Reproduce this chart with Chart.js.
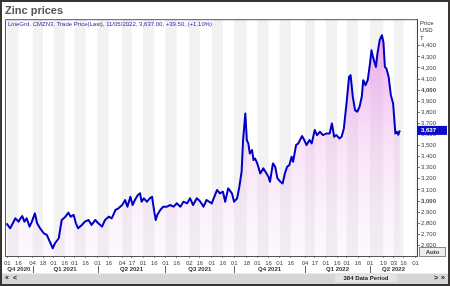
<!DOCTYPE html>
<html><head><meta charset="utf-8">
<script src="https://cdn.jsdelivr.net/npm/chart.js@4.4.0/dist/chart.umd.min.js"></script>
<style>html,body{margin:0;padding:0;background:#fff;overflow:hidden}canvas{display:block}</style>
</head><body><canvas id="c" width="450" height="286"></canvas>
<script>
const TITLE = 'Zinc prices';
const SUBTITLE = 'LineGrd, CMZN3, Trade Price(Last), 11/05/2022, 3,637.00, +39.50, (+1.10%)';
const AXIS_UNIT = ['Price', 'USD', 'T'];
const DATA_PERIOD = '384 Data Period';
const START_DATE = '2020-12-01';
const X_RANGE = ['2020-11-28', '2022-06-03'];
const PRICE_RANGE = [2504, 4640];

const dates = [
'2020-11-30','2020-12-05','2020-12-12','2020-12-16','2020-12-21','2020-12-24','2020-12-27','2020-12-31',
'2021-01-03','2021-01-07','2021-01-10','2021-01-14','2021-01-19','2021-01-23','2021-01-28','2021-01-31',
'2021-02-03','2021-02-08','2021-02-12','2021-02-17','2021-02-21','2021-02-24','2021-02-28',
'2021-03-03','2021-03-06','2021-03-11','2021-03-15','2021-03-20','2021-03-24','2021-03-29',
'2021-04-02','2021-04-07','2021-04-11','2021-04-16','2021-04-20','2021-04-25','2021-04-29',
'2021-05-04','2021-05-08','2021-05-11','2021-05-15','2021-05-18','2021-05-21','2021-05-25','2021-05-28','2021-05-30',
'2021-06-02','2021-06-06','2021-06-10','2021-06-13','2021-06-16','2021-06-18','2021-06-20','2021-06-24','2021-06-28',
'2021-07-03','2021-07-07','2021-07-12','2021-07-16','2021-07-21','2021-07-25','2021-07-30',
'2021-08-03','2021-08-07','2021-08-12','2021-08-16','2021-08-21','2021-08-25',
'2021-09-01','2021-09-08','2021-09-12','2021-09-16','2021-09-19','2021-09-23','2021-09-28',
'2021-10-01','2021-10-05','2021-10-08','2021-10-11','2021-10-13','2021-10-16','2021-10-18','2021-10-20','2021-10-22','2021-10-25','2021-10-27','2021-10-29',
'2021-11-01','2021-11-05','2021-11-09','2021-11-12','2021-11-16','2021-11-18','2021-11-22','2021-11-25','2021-11-28',
'2021-12-02','2021-12-05','2021-12-08','2021-12-11','2021-12-14','2021-12-17','2021-12-19','2021-12-23','2021-12-26','2021-12-31',
'2022-01-03','2022-01-06','2022-01-10','2022-01-13','2022-01-17','2022-01-20','2022-01-24','2022-01-28',
'2022-02-02','2022-02-06','2022-02-09','2022-02-12','2022-02-15','2022-02-19','2022-02-22','2022-02-25',
'2022-03-01','2022-03-04','2022-03-06','2022-03-09','2022-03-12','2022-03-15','2022-03-18','2022-03-21','2022-03-23','2022-03-26','2022-03-29',
'2022-04-01','2022-04-03','2022-04-05','2022-04-09','2022-04-11','2022-04-14','2022-04-17','2022-04-19','2022-04-21','2022-04-23','2022-04-26','2022-04-29',
'2022-05-02','2022-05-05','2022-05-07','2022-05-09','2022-05-11'
];
const prices = [
2799,2754,2844,2814,2865,2814,2844,2769,
2814,2889,2799,2754,2709,2694,2619,2574,
2619,2664,2829,2859,2895,2859,2874,
2799,2754,2784,2814,2829,2784,2829,
2799,2769,2829,2859,2844,2919,2934,
2964,3009,2949,3039,2964,3009,3054,3069,2994,
3024,2994,3024,3039,2904,2829,2874,2919,2949,
2949,2964,2949,2979,2949,2994,2979,
3024,2964,3024,3000,2949,3009,
2979,3099,3069,3084,2994,3114,3069,
2994,3024,3129,3264,3550,3790,3550,3520,3429,3459,3369,3384,
3339,3249,3294,3264,3219,3174,3339,3309,3204,
3174,3159,3249,3309,3324,3399,3354,3505,3520,3586,
3550,3505,3550,3520,3640,3595,3625,3595,
3610,3610,3700,3580,3595,3565,3580,3655,
3910,4120,4135,3940,3820,3805,3850,3940,4090,4045,4090,
4240,4360,4300,4210,4330,4450,4495,4435,4210,4195,4120,3955,
3880,3610,3625,3598,3637
];

const tickDates = ['2020-12-01','2020-12-16','2021-01-04','2021-01-18','2021-02-01','2021-02-16','2021-03-01','2021-03-16',
'2021-04-01','2021-04-16','2021-05-04','2021-05-17','2021-06-01','2021-06-16','2021-07-01','2021-07-16','2021-08-02','2021-08-16',
'2021-09-01','2021-09-16','2021-10-01','2021-10-18','2021-11-01','2021-11-16','2021-12-01','2021-12-16','2022-01-04','2022-01-17',
'2022-02-01','2022-02-16','2022-03-01','2022-03-16','2022-04-01','2022-04-19','2022-05-03','2022-05-16','2022-06-01'];
const tickLabels = ['01','16','04','18','01','16','01','16','01','16','04','17','01','16','01','16','02','16',
'01','16','01','18','01','16','01','16','04','17','01','16','01','16','01','19','03','16','01'];
const quarterStarts = ['2020-10-01','2021-01-04','2021-04-01','2021-07-01','2021-10-01','2022-01-04','2022-04-01','2022-07-01'];
const quarterLabels = ['Q4 2020','Q1 2021','Q2 2021','Q3 2021','Q4 2021','Q1 2022','Q2 2022'];
const priceTicks = [2600,2700,2800,2900,3000,3100,3200,3300,3400,3500,3600,3700,3800,3900,4000,4100,4200,4300,4400];
const boldPriceTicks = [3000, 4000];

const FONT = 'Liberation Sans, Arial, sans-serif';
const t0 = Date.UTC(2020, 11, 1);
function dayNum(s) { const [y, m, d] = s.split('-').map(Number); return (Date.UTC(y, m - 1, d) - t0) / 86400000; }
const xMin = dayNum(X_RANGE[0]), xMax = dayNum(X_RANGE[1]);

const decor = {
  id: 'decor',
  beforeDatasetsDraw(chart) {
    const { ctx, chartArea: a, scales } = chart;
    const xs = scales.x;
    ctx.save();
    ctx.beginPath(); ctx.rect(a.left, a.top, a.right - a.left, a.bottom - a.top); ctx.clip();
    ctx.fillStyle = '#f2f2f2';
    for (let i = 0; i < tickDates.length; i += 2) {
      const x1 = xs.getPixelForValue(dayNum(tickDates[i]));
      const x2 = i + 1 < tickDates.length ? xs.getPixelForValue(dayNum(tickDates[i + 1])) : a.right;
      ctx.fillRect(x1, a.top, x2 - x1, a.bottom - a.top);
    }
    ctx.fillStyle = '#2a2ab0';
    ctx.font = '6px ' + FONT;
    ctx.textBaseline = 'middle';
    ctx.fillText(SUBTITLE, a.left + 3, a.top + 5.5);
    ctx.restore();
  },
  afterDraw(chart) {
    const { ctx, chartArea: a, scales } = chart;
    const xs = scales.x, ys = scales.y;
    const W = chart.width, H = chart.height;
    ctx.save();
    ctx.strokeStyle = '#555'; ctx.lineWidth = 1;
    ctx.beginPath();
    ctx.moveTo(a.left + 0.5, a.bottom); ctx.lineTo(a.left + 0.5, a.top + 0.5); ctx.lineTo(a.right, a.top + 0.5);
    ctx.stroke();
    ctx.strokeStyle = '#666';
    quarterStarts.forEach(q => {
      const v = dayNum(q);
      if (v <= xMin || v >= xMax) return;
      const x = Math.round(xs.getPixelForValue(v)) + 0.5;
      ctx.beginPath(); ctx.moveTo(x, 266); ctx.lineTo(x, 273); ctx.stroke();
    });
    ctx.fillStyle = '#333'; ctx.font = '6px ' + FONT; ctx.textBaseline = 'middle'; ctx.textAlign = 'left';
    AXIS_UNIT.forEach((t, i) => ctx.fillText(t, a.right + 3, 23 + i * 7.5));
    const last = prices[prices.length - 1];
    const py = ys.getPixelForValue(last);
    ctx.fillStyle = '#0c0cc8';
    ctx.fillRect(a.right, py - 4.5, 30, 9);
    ctx.fillStyle = '#ffffff'; ctx.font = 'bold 6px ' + FONT;
    ctx.fillText(last.toLocaleString('en-US'), a.right + 4, py);
    ctx.fillStyle = '#eeeeee'; ctx.fillRect(419.5, 247.5, 26, 9);
    ctx.strokeStyle = '#888'; ctx.strokeRect(419.5, 247.5, 26, 9);
    ctx.fillStyle = '#333'; ctx.font = 'bold 6px ' + FONT; ctx.textAlign = 'center';
    ctx.fillText('Auto', 432.5, 252);
    ctx.fillStyle = '#d6d6d6'; ctx.fillRect(0, 273.5, W, H - 273.5);
    ctx.fillStyle = '#e4e4e4'; ctx.fillRect(335, 274.5, 62, 8);
    ctx.fillStyle = '#222'; ctx.font = 'bold 6px ' + FONT;
    ctx.fillText(DATA_PERIOD, 366, 278.5);
    ctx.font = 'bold 7px ' + FONT;
    ctx.fillText('\u00ab', 7, 278.5); ctx.fillText('<', 15, 278.5);
    ctx.fillText('>', 436, 278.5); ctx.fillText('\u00bb', 443, 278.5);
    ctx.strokeStyle = '#3a3530'; ctx.lineWidth = 2;
    ctx.strokeRect(1, 1, W - 2, H - 2);
    ctx.restore();
  }
};

const points = dates.map((d, i) => ({ x: dayNum(d), y: prices[i] }));

new Chart(document.getElementById('c'), {
  type: 'line',
  data: {
    datasets: [{
      data: points,
      borderColor: '#0000c4',
      borderWidth: 2,
      borderJoinStyle: 'round',
      pointRadius: 0,
      tension: 0,
      fill: 'start',
      backgroundColor(ctx) {
        const a = ctx.chart.chartArea;
        if (!a) return 'rgba(240,180,240,0.4)';
        const g = ctx.chart.ctx.createLinearGradient(0, a.top, 0, a.bottom);
        g.addColorStop(0, 'rgba(230,100,230,0.6)');
        g.addColorStop(0.5, 'rgba(235,160,235,0.33)');
        g.addColorStop(1, 'rgba(240,200,240,0.12)');
        return g;
      }
    }]
  },
  options: {
    responsive: false,
    devicePixelRatio: 1,
    animation: false,
    layout: { padding: { left: 5, right: 0, top: 0, bottom: 13 } },
    plugins: {
      legend: { display: false },
      tooltip: { enabled: false },
      title: {
        display: true, text: TITLE, align: 'start', color: '#555',
        font: { family: FONT, size: 11, weight: 'bold' },
        padding: { top: 4, bottom: 2 }
      }
    },
    scales: {
      x: {
        type: 'linear', position: 'bottom', min: xMin, max: xMax, weight: 1,
        afterBuildTicks(s) { s.ticks = tickDates.map(d => ({ value: dayNum(d) })); },
        afterFit(s) { s.height = 10; },
        grid: { drawOnChartArea: false, drawTicks: true, tickLength: 2, color: '#888' },
        border: { display: true, color: '#555' },
        ticks: {
          autoSkip: false, maxRotation: 0, minRotation: 0, padding: 2, color: '#444',
          font: { family: FONT, size: 6 },
          callback: (v, i) => tickLabels[i]
        }
      },
      xq: {
        type: 'linear', position: 'bottom', min: xMin, max: xMax, weight: 2,
        afterBuildTicks(s) {
          const t = [];
          for (let i = 0; i < quarterLabels.length; i++) {
            const a = Math.max(xMin, dayNum(quarterStarts[i]));
            const b = Math.min(xMax, dayNum(quarterStarts[i + 1]));
            t.push({ value: (a + b) / 2 });
          }
          s.ticks = t;
        },
        afterFit(s) { s.height = 7; },
        grid: { display: false, drawTicks: false },
        border: { display: false },
        ticks: {
          autoSkip: false, maxRotation: 0, minRotation: 0, padding: 0, color: '#333',
          font: { family: FONT, size: 6, weight: 'bold' },
          callback: (v, i) => quarterLabels[i]
        }
      },
      y: {
        type: 'linear', position: 'right', min: PRICE_RANGE[0], max: PRICE_RANGE[1],
        afterBuildTicks(s) { s.ticks = priceTicks.map(v => ({ value: v })); },
        afterFit(s) { s.width = 33; },
        grid: { drawOnChartArea: false, drawTicks: true, tickLength: 3, color: '#777' },
        border: { display: true, color: '#444' },
        ticks: {
          padding: 1, color: '#444',
          font: ctx => ({ family: FONT, size: 6, weight: boldPriceTicks.includes(ctx.tick && ctx.tick.value) ? 'bold' : 'normal' }),
          callback: v => v.toLocaleString('en-US')
        }
      }
    }
  },
  plugins: [decor]
});
</script></body></html>
